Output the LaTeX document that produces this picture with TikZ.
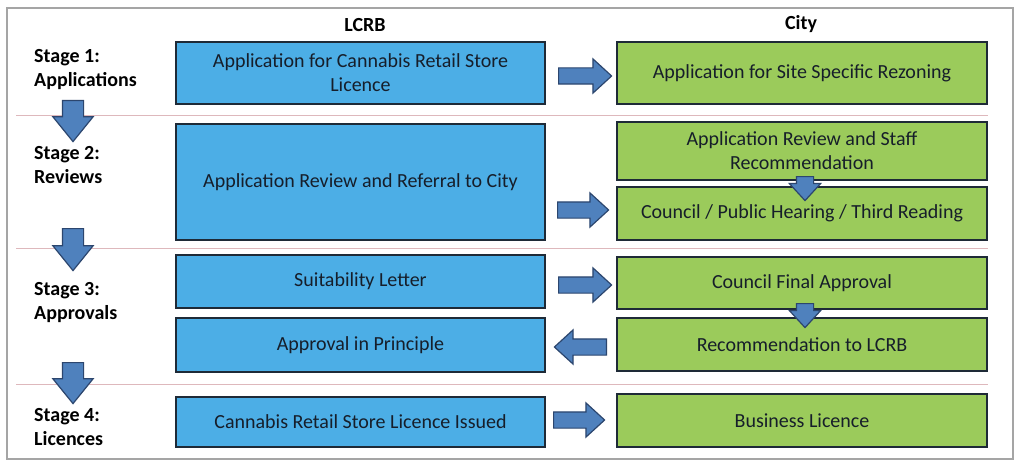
\documentclass[tikz,border=0pt]{standalone}
\usepackage{fontspec}
\setmainfont{Carlito}
\usetikzlibrary{shapes.arrows}
\definecolor{boxblue}{RGB}{76,174,230}
\definecolor{boxgreen}{RGB}{155,203,91}
\definecolor{arrfill}{RGB}{79,129,189}
\definecolor{arrdraw}{RGB}{44,70,110}
\definecolor{boxdraw}{RGB}{30,42,55}
\definecolor{sepline}{RGB}{222,184,188}
\definecolor{framegray}{RGB}{165,165,165}
\definecolor{txt}{RGB}{22,30,42}
\tikzset{
  stagebox/.style={draw=boxdraw, line width=1.6pt, inner sep=2pt, align=center,
     text=txt, font=\fontsize{20}{24}\selectfont},
  lbox/.style={stagebox, fill=boxblue, minimum width=369pt},
  rbox/.style={stagebox, fill=boxgreen, minimum width=370pt},
  fatarr/.style={single arrow, draw=arrdraw, fill=arrfill, line width=1.2pt,
     inner xsep=0pt, single arrow tip angle=85, anchor=tail},
  hzarr/.style={fatarr, inner ysep=7.5pt, minimum width=33pt, single arrow head extend=9pt},
  ldown/.style={fatarr, inner ysep=10pt, minimum width=39pt, single arrow head extend=9.5pt, single arrow tip angle=78, rotate=-90},
  sdown/.style={fatarr, inner ysep=8pt, minimum width=30pt, single arrow head extend=7pt, rotate=-90, minimum height=24pt},
  stagelbl/.style={anchor=west, align=left, text=black, font=\fontsize{20}{24}\selectfont\bfseries, inner sep=0pt},
  header/.style={text=black, font=\fontsize{20}{22}\selectfont\bfseries},
  sep/.style={draw=sepline, line width=0.8pt}
}
\begin{document}
\begin{tikzpicture}[x=1pt,y=-1pt]
\useasboundingbox (0,0) rectangle (1024,468);
\fill[white] (0,0) rectangle (1024,468);
\draw[framegray, line width=1.2pt] (7,8) rectangle (1013,459);
% separators
\coordinate (s1a) at (16,115); \coordinate (s1b) at (988,115);
\coordinate (s2a) at (16,248); \coordinate (s2b) at (988,248);
\coordinate (s3a) at (16,384); \coordinate (s3b) at (988,384);
\draw[sep] (s1a) -- (s1b);
\draw[sep] (s2a) -- (s2b);
\draw[sep] (s3a) -- (s3b);
% headers
\node[header] (hl) at (365,25) {LCRB};
\node[header] (hc) at (801,24) {City};
% stage labels
\node[stagelbl] (st1) at (34,70) {Stage 1:\\Applications};
\node[stagelbl] (st2) at (34,165) {Stage 2:\\Reviews};
\node[stagelbl] (st3) at (34,303) {Stage 3:\\Approvals};
\node[stagelbl] (st4) at (34,427) {Stage 4:\\Licences};
% LCRB boxes
\node[lbox, minimum height=62pt] (b1) at (360.5,73) {Application for Cannabis Retail Store\\Licence};
\node[lbox, minimum height=116pt] (b2) at (360.5,182) {Application Review and Referral to City};
\node[lbox, minimum height=53pt] (b3) at (360.5,281.5) {Suitability Letter};
\node[lbox, minimum height=54pt] (b4) at (360.5,345) {Approval in Principle};
\node[lbox, minimum height=50pt] (b5) at (360.5,422) {Cannabis Retail Store Licence Issued};
% City boxes
\node[rbox, minimum height=62pt] (g1) at (802,73) {Application for Site Specific Rezoning};
\node[rbox, minimum height=58pt] (g2) at (802,151) {Application Review and Staff\\Recommendation};
\node[rbox, minimum height=53pt] (g3) at (802,213.5) {Council / Public Hearing / Third Reading};
\node[rbox, minimum height=52pt] (g4) at (802,283) {Council Final Approval};
\node[rbox, minimum height=53pt] (g5) at (802,344.5) {Recommendation to LCRB};
\node[rbox, minimum height=53pt] (g6) at (802,420.5) {Business Licence};
% horizontal arrows
\node[hzarr, minimum height=53pt] (a1) at (558,76) {};
\node[hzarr, minimum height=51pt] (a2) at (557,210) {};
\node[hzarr, minimum height=53pt] (a3) at (558,285) {};
\node[hzarr, minimum height=52pt, rotate=180] (a4) at (607,347) {};
\node[hzarr, minimum height=51pt] (a5) at (553,420) {};
% stage down arrows
\node[ldown, minimum height=41pt] (d1) at (73,100) {};
\node[ldown, minimum height=42pt] (d2) at (73,228) {};
\node[ldown, minimum height=41pt] (d3) at (73,362) {};
% small down arrows in City column
\node[sdown] (sd1) at (805,176) {};
\node[sdown] (sd2) at (805,303) {};
\end{tikzpicture}
\end{document}
